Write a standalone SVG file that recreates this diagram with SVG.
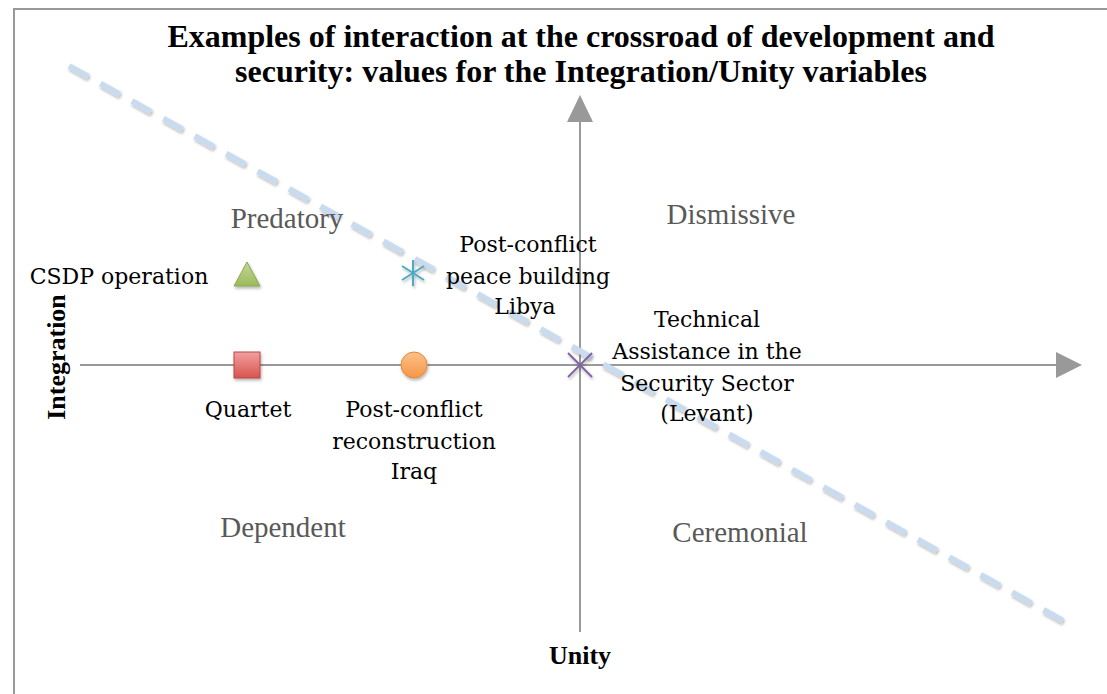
<svg xmlns="http://www.w3.org/2000/svg" width="1107" height="694" viewBox="0 0 1107 694">
<style>
.title{font-family:"Liberation Serif",serif;font-weight:bold;font-size:32px;fill:#000;text-anchor:middle}
.axis{font-family:"Liberation Serif",serif;font-weight:bold;font-size:26px;fill:#000;text-anchor:middle}
.quad{font-family:"Liberation Serif",serif;font-size:29px;fill:#595959;text-anchor:middle}
.lbl{font-family:"DejaVu Serif",serif;font-size:22px;fill:#000;text-anchor:middle}
.ax{stroke:#999;stroke-width:2;fill:none}
</style>
<defs>
<filter id="sh" x="-30%" y="-30%" width="160%" height="160%">
<feGaussianBlur in="SourceAlpha" stdDeviation="1.5"/>
<feOffset dx="1" dy="2" result="b"/>
<feComponentTransfer><feFuncA type="linear" slope="0.3"/></feComponentTransfer>
<feMerge><feMergeNode/><feMergeNode in="SourceGraphic"/></feMerge>
</filter>
<linearGradient id="gG" x1="0" y1="0" x2="0" y2="1"><stop offset="0" stop-color="#c3d69b"/><stop offset="1" stop-color="#9bbb59"/></linearGradient>
<linearGradient id="gR" x1="0" y1="0" x2="0" y2="1"><stop offset="0" stop-color="#f0a0a0"/><stop offset="1" stop-color="#d9534f"/></linearGradient>
<linearGradient id="gO" x1="0" y1="0" x2="0" y2="1"><stop offset="0" stop-color="#fbc08a"/><stop offset="1" stop-color="#f79646"/></linearGradient>
</defs>
<rect width="1107" height="694" fill="#fff"/>
<g id="frame"><polyline points="14,694 14,9 1107,9" fill="none" stroke="#999" stroke-width="2"/></g>
<g id="title">
<text class="title" x="581" y="47">Examples of interaction at the crossroad of development and</text>
<text class="title" x="581" y="82">security: values for the Integration/Unity variables</text>
</g>
<g id="connectors">
<line class="ax" x1="80" y1="365" x2="1058" y2="365"/>
<polygon points="1056,352 1082,365 1056,378" fill="#999"/>
<line class="ax" x1="580" y1="632" x2="580" y2="120"/>
<polygon points="567,122 580,95 593,122" fill="#999"/>
<line x1="69" y1="66" x2="1067" y2="623" stroke="#c9dbee" stroke-width="6" stroke-dasharray="22 14" filter="url(#sh)"/>
</g>
<g id="axis-labels">
<text class="axis" x="580" y="664">Unity</text>
<text class="axis" transform="translate(65 357) rotate(-90)">Integration</text>
</g>
<g id="quadrants">
<text class="quad" x="287" y="228">Predatory</text>
<text class="quad" x="731" y="224">Dismissive</text>
<text class="quad" x="283" y="537">Dependent</text>
<text class="quad" x="740" y="542">Ceremonial</text>
</g>
<g id="node-csdp">
<polygon points="247,262 260,286 234,286" fill="url(#gG)" stroke="#8aa84f" stroke-width="1" filter="url(#sh)"/>
<text class="lbl" x="119" y="284">CSDP operation</text>
</g>
<g id="node-libya">
<g stroke="#4bacc6" stroke-width="2" filter="url(#sh)">
<line x1="413" y1="260" x2="413" y2="286"/>
<line x1="402" y1="266" x2="424" y2="280"/>
<line x1="402" y1="280" x2="424" y2="266"/>
</g>
<text class="lbl" x="528" y="252">Post-conflict</text>
<text class="lbl" x="528" y="284">peace building</text>
<text class="lbl" x="525" y="314">Libya</text>
</g>
<g id="node-quartet">
<rect x="234" y="352" width="26" height="26" fill="url(#gR)" stroke="#b84744" stroke-width="1" filter="url(#sh)"/>
<text class="lbl" x="248" y="417">Quartet</text>
</g>
<g id="node-iraq">
<circle cx="414" cy="365" r="13" fill="url(#gO)" stroke="#e6873a" stroke-width="1" filter="url(#sh)"/>
<text class="lbl" x="414" y="417">Post-conflict</text>
<text class="lbl" x="414" y="449">reconstruction</text>
<text class="lbl" x="414" y="479">Iraq</text>
</g>
<g id="node-levant">
<g stroke="#8064a2" stroke-width="2" filter="url(#sh)">
<line x1="568" y1="353" x2="592" y2="377"/>
<line x1="568" y1="377" x2="592" y2="353"/>
</g>
<text class="lbl" x="707" y="327">Technical</text>
<text class="lbl" x="707" y="359">Assistance in the</text>
<text class="lbl" x="707" y="391">Security Sector</text>
<text class="lbl" x="707" y="421">(Levant)</text>
</g>
</svg>
